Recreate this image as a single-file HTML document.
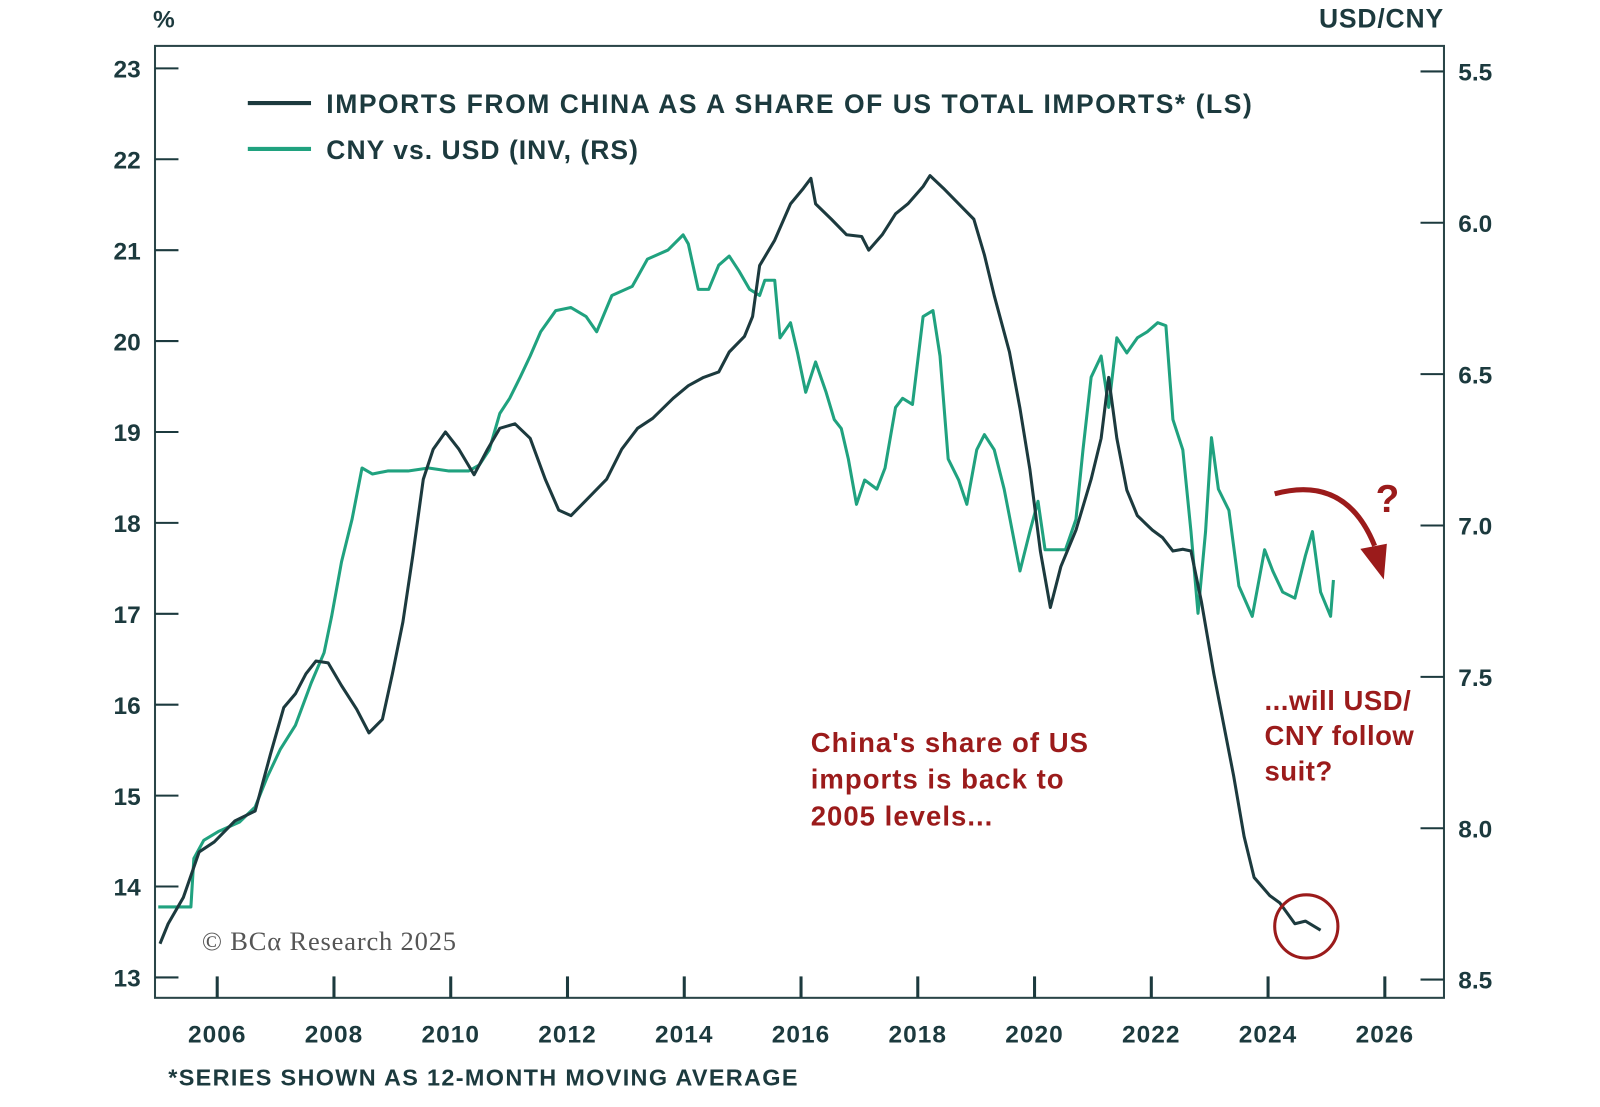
<!DOCTYPE html>
<html><head><meta charset="utf-8"><style>
html,body{margin:0;padding:0;background:#fff;}
svg{display:block;}
text{font-family:"Liberation Sans",sans-serif;font-weight:bold;}
</style></head><body>
<svg id="chart" width="1600" height="1107" viewBox="0 0 1569 1085" preserveAspectRatio="none" xmlns="http://www.w3.org/2000/svg">
<rect x="152" y="45" width="1264" height="933" fill="none" stroke="#2a4548" stroke-width="2"/>
<text x="150" y="27" font-size="24" fill="#1c3a3e">%</text>
<text x="1416" y="27" font-size="26" fill="#1c3a3e" text-anchor="end" letter-spacing="0.8">USD/CNY</text>
<g id="axes"></g>
<g id="series"></g>
<line x1="243" y1="101" x2="305" y2="101" stroke="#1c3a3e" stroke-width="4"/>
<text x="320" y="111" font-size="26" fill="#1c3a3e" letter-spacing="1.5">IMPORTS FROM CHINA AS A SHARE OF US TOTAL IMPORTS* (LS)</text>
<line x1="243" y1="146" x2="305" y2="146" stroke="#20a27f" stroke-width="4"/>
<text x="320" y="156" font-size="26" fill="#1c3a3e" letter-spacing="1">CNY vs. USD (INV, (RS)</text>
<text x="198" y="931" font-size="26" fill="#555" style="font-family:'Liberation Serif',serif;font-weight:normal" letter-spacing="0.8">© BCα Research 2025</text>
<text x="165" y="1064" font-size="23" fill="#1c3a3e" letter-spacing="1.3">*SERIES SHOWN AS 12-MONTH MOVING AVERAGE</text>
<g font-size="27" fill="#9b1b1b" letter-spacing="1">
<text x="795" y="737">China's share of US</text>
<text x="795" y="773">imports is back to</text>
<text x="795" y="809">2005 levels...</text>
</g>
<g font-size="27" fill="#9b1b1b" letter-spacing="0.5">
<text x="1240" y="696">...will USD/</text>
<text x="1240" y="730">CNY follow</text>
<text x="1240" y="765">suit?</text>
</g>
<circle cx="1281" cy="908" r="31" fill="none" stroke="#9b1b1b" stroke-width="3"/>
<path d="M1250,484 Q1320,465 1348,535" fill="none" stroke="#9b1b1b" stroke-width="5"/>
<polygon points="1334,538 1360,533 1357,568" fill="#9b1b1b"/>
<text x="1349" y="502" font-size="38" fill="#9b1b1b">?</text>
</svg>
<script>
const impYears=[2005.02,2005.16,2005.42,2005.69,2005.95,2006.30,2006.65,2006.91,2007.14,2007.34,2007.52,2007.69,2007.90,2008.13,2008.39,2008.60,2008.83,2009.00,2009.18,2009.35,2009.53,2009.70,2009.91,2010.14,2010.40,2010.63,2010.84,2011.10,2011.36,2011.62,2011.85,2012.06,2012.32,2012.67,2012.93,2013.20,2013.46,2013.81,2014.07,2014.33,2014.59,2014.77,2015.03,2015.17,2015.29,2015.55,2015.82,2016.04,2016.17,2016.25,2016.52,2016.78,2017.04,2017.16,2017.39,2017.62,2017.83,2018.09,2018.21,2018.44,2018.70,2018.96,2019.14,2019.31,2019.57,2019.75,2019.92,2020.10,2020.27,2020.45,2020.71,2020.97,2021.14,2021.27,2021.41,2021.58,2021.76,2022.02,2022.19,2022.37,2022.54,2022.68,2022.86,2023.07,2023.24,2023.41,2023.59,2023.76,2024.03,2024.20,2024.46,2024.64,2024.90];
const impValues=[13.37,13.59,13.88,14.38,14.49,14.72,14.83,15.45,15.97,16.12,16.34,16.48,16.46,16.21,15.95,15.69,15.84,16.34,16.91,17.64,18.48,18.81,19.00,18.81,18.53,18.81,19.04,19.09,18.93,18.48,18.14,18.08,18.25,18.48,18.81,19.04,19.15,19.37,19.51,19.60,19.66,19.88,20.05,20.27,20.83,21.11,21.51,21.68,21.79,21.51,21.34,21.17,21.15,21.00,21.17,21.40,21.51,21.70,21.82,21.68,21.51,21.34,20.95,20.50,19.88,19.26,18.59,17.69,17.07,17.52,17.92,18.48,18.93,19.60,18.93,18.36,18.08,17.92,17.84,17.69,17.71,17.69,17.13,16.34,15.78,15.22,14.55,14.10,13.90,13.82,13.59,13.62,13.52];
const cnyYears=[2004.99,2005.55,2005.60,2005.77,2006.03,2006.38,2006.65,2006.86,2007.08,2007.34,2007.61,2007.83,2007.96,2008.13,2008.31,2008.48,2008.66,2008.92,2009.27,2009.62,2009.97,2010.31,2010.49,2010.66,2010.84,2011.01,2011.19,2011.36,2011.54,2011.80,2012.06,2012.32,2012.50,2012.76,2013.11,2013.37,2013.72,2013.98,2014.07,2014.24,2014.42,2014.59,2014.77,2014.94,2015.12,2015.29,2015.38,2015.55,2015.64,2015.82,2015.94,2016.08,2016.25,2016.43,2016.57,2016.69,2016.81,2016.95,2017.09,2017.30,2017.44,2017.62,2017.74,2017.91,2018.09,2018.26,2018.38,2018.52,2018.70,2018.84,2019.01,2019.14,2019.31,2019.48,2019.57,2019.75,2019.92,2020.06,2020.18,2020.36,2020.53,2020.71,2020.83,2020.97,2021.14,2021.27,2021.41,2021.58,2021.76,2021.93,2022.11,2022.25,2022.37,2022.54,2022.68,2022.80,2022.93,2023.03,2023.15,2023.33,2023.50,2023.73,2023.94,2024.08,2024.25,2024.46,2024.64,2024.76,2024.90,2025.07,2025.12];
const cnyValues=[8.26,8.26,8.10,8.04,8.01,7.98,7.93,7.83,7.74,7.66,7.52,7.42,7.30,7.12,6.98,6.81,6.83,6.82,6.82,6.81,6.82,6.82,6.80,6.75,6.63,6.58,6.51,6.44,6.36,6.29,6.28,6.31,6.36,6.24,6.21,6.12,6.09,6.04,6.07,6.22,6.22,6.14,6.11,6.16,6.22,6.24,6.19,6.19,6.38,6.33,6.43,6.56,6.46,6.56,6.65,6.68,6.78,6.93,6.85,6.88,6.81,6.61,6.58,6.60,6.31,6.29,6.44,6.78,6.85,6.93,6.75,6.70,6.75,6.88,6.97,7.15,7.02,6.92,7.08,7.08,7.08,6.98,6.75,6.51,6.44,6.61,6.38,6.43,6.38,6.36,6.33,6.34,6.65,6.75,7.02,7.29,7.02,6.71,6.88,6.95,7.20,7.30,7.08,7.15,7.22,7.24,7.10,7.02,7.22,7.30,7.18];
const leftTicks=[13,14,15,16,17,18,19,20,21,22,23];
const rightTicks=["5.5","6.0","6.5","7.0","7.5","8.0","8.5"];
const xTicks=[2006,2008,2010,2012,2014,2016,2018,2020,2022,2024,2026];

const NS="http://www.w3.org/2000/svg";
const xScale=y=>213+(y-2006)*57.25;
const yLeft=v=>67+(23-v)*89.1;
const yRight=v=>70+(v-5.5)*296.7;
function mk(tag,attrs,parent){const e=document.createElementNS(NS,tag);for(const k in attrs)e.setAttribute(k,attrs[k]);parent.appendChild(e);return e;}
const axes=document.getElementById('axes');
const ser=document.getElementById('series');
const col="#1c3a3e";
leftTicks.forEach(v=>{
  const y=yLeft(v);
  const l=mk('line',{x1:152,x2:175,y1:y,y2:y,stroke:col,'stroke-width':2},axes);
  
  
  const t=mk('text',{x:138,y:y+9,'font-size':24,fill:col,'text-anchor':'end'},axes);
  t.textContent=v;
  
  
});
rightTicks.forEach(s=>{
  const y=yRight(parseFloat(s));
  const l=mk('line',{x1:1393,x2:1416,y1:y,y2:y,stroke:col,'stroke-width':2},axes);
  
  
  const t=mk('text',{x:1430,y:y+9,'font-size':24,fill:col},axes);
  t.textContent=s;
  
  
});
xTicks.forEach(v=>{
  const x=xScale(v);
  const l=mk('line',{x1:x,x2:x,y1:957,y2:978,stroke:col,'stroke-width':3},axes);
  
  
  const t=mk('text',{x:x,y:1022,'font-size':24,fill:col,'text-anchor':'middle','letter-spacing':1},axes);
  t.textContent=v;
  
  
});
function path(xs,ys,f){return xs.map((x,i)=>(i?'L':'M')+xScale(x).toFixed(1)+','+f(ys[i]).toFixed(1)).join(' ');}
const g=mk('path',{d:path(cnyYears,cnyValues,yRight),fill:'none',stroke:'#20a27f','stroke-width':3,'stroke-linejoin':'round'},ser);


const d=mk('path',{d:path(impYears,impValues,yLeft),fill:'none',stroke:col,'stroke-width':3,'stroke-linejoin':'round'},ser);


</script>
</body></html>
